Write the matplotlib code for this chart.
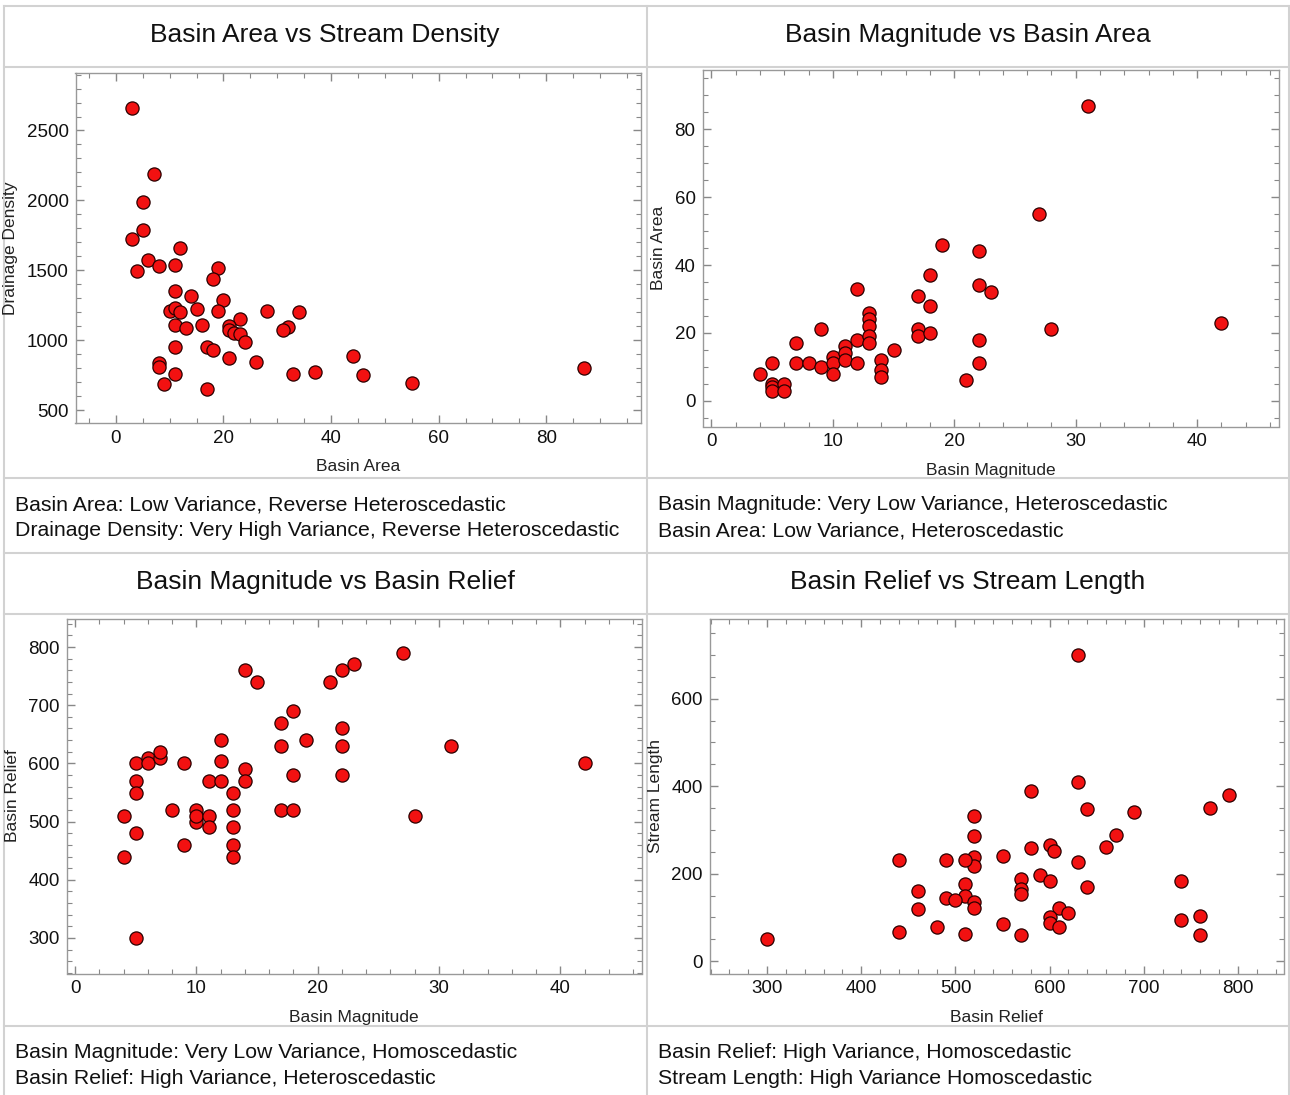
import matplotlib.pyplot as plt
from matplotlib.lines import Line2D
from matplotlib.ticker import MultipleLocator

plt.rcParams['font.family'] = ['Liberation Sans', 'DejaVu Sans']

# Basin Area vs Drainage Density
area_1 = [3, 7, 5, 5, 3, 12, 6, 4, 8, 11, 19, 18, 11, 14, 20, 10, 11, 12, 15, 19,
          28, 34, 23, 11, 13, 16, 21, 21, 22, 23, 24, 32, 31, 11, 17, 18, 21, 26,
          8, 8, 44, 11, 33, 37, 46, 9, 55, 17, 87]
density_1 = [2660, 2190, 1990, 1790, 1725, 1660, 1576, 1495, 1531, 1540, 1517, 1436,
             1350, 1314, 1290, 1206, 1232, 1200, 1222, 1210, 1210, 1200, 1150, 1105,
             1088, 1107, 1098, 1076, 1052, 1043, 986, 1093, 1076, 950, 950, 926, 873,
             843, 838, 809, 883, 761, 761, 773, 752, 687, 690, 647, 802]

# Basin Magnitude vs Basin Area
magnitude_2 = [4, 5, 5, 5, 5, 6, 6, 7, 7, 8, 9, 9, 10, 10, 10, 11, 11, 11, 12, 12,
               12, 13, 13, 13, 13, 13, 14, 14, 14, 15, 17, 17, 17, 18, 18, 18, 19,
               21, 22, 22, 22, 22, 23, 27, 28, 31, 42]
area_2 = [8, 11, 5, 4, 3, 5, 3, 17, 11, 11, 21, 10, 13, 11, 8, 16, 14, 12, 33, 18,
          11, 26, 24, 22, 19, 17, 12, 9, 7, 15, 31, 21, 19, 37, 28, 20, 46,
          6, 44, 34, 18, 11, 32, 55, 21, 87, 23]

# Basin Magnitude vs Basin Relief
magnitude_3 = [4, 4, 5, 5, 5, 5, 5, 6, 6, 7, 7, 8, 9, 9, 10, 10, 10, 11, 11, 11,
               12, 12, 12, 13, 13, 13, 13, 13, 14, 14, 14, 15, 17, 17, 17, 18, 18,
               18, 19, 21, 22, 22, 22, 22, 23, 27, 28, 31, 42]
relief_3 = [510, 440, 600, 570, 550, 480, 300, 610, 600, 610, 620, 520, 600, 460,
            520, 500, 510, 570, 510, 490, 640, 605, 570, 550, 520, 490, 460, 440,
            760, 590, 570, 740, 670, 630, 520, 690, 580, 520, 640, 740, 760, 660,
            630, 580, 770, 790, 510, 630, 600]

# Basin Relief vs Stream Length
relief_4 = [630, 630, 580, 640, 690, 770, 790, 520, 520, 670, 660, 580, 600, 605,
            550, 520, 520, 510, 490, 440, 630, 590, 600, 570, 570, 570, 740, 640,
            460, 510, 510, 490, 500, 520, 520, 460, 610, 620, 600, 600, 610, 550,
            480, 440, 510, 570, 740, 760, 760, 300]
length_4 = [700, 410, 390, 347, 340, 350, 380, 333, 287, 288, 260, 258, 266, 252,
            240, 238, 218, 231, 231, 231, 226, 198, 184, 187, 166, 153, 183, 169,
            160, 177, 149, 144, 140, 135, 122, 120, 122, 111, 101, 88, 79, 84,
            79, 66, 63, 60, 94, 104, 61, 50]

titles = ['Basin Area vs Stream Density', 'Basin Magnitude vs Basin Area',
          'Basin Magnitude vs Basin Relief', 'Basin Relief vs Stream Length']
captions = [
    ['Basin Area: Low Variance, Reverse Heteroscedastic',
     'Drainage Density: Very High Variance, Reverse Heteroscedastic'],
    ['Basin Magnitude: Very Low Variance, Heteroscedastic',
     'Basin Area: Low Variance, Heteroscedastic'],
    ['Basin Magnitude: Very Low Variance, Homoscedastic',
     'Basin Relief: High Variance, Heteroscedastic'],
    ['Basin Relief: High Variance, Homoscedastic',
     'Stream Length: High Variance Homoscedastic'],
]

W, H = 1290, 1095
fig = plt.figure(figsize=(W / 100, H / 100), dpi=100)
fig.patch.set_facecolor('white')

# background layer in pixel coordinates for the table grid and text
bg = fig.add_axes([0, 0, 1, 1])
bg.set_xlim(0, W)
bg.set_ylim(H, 0)
bg.axis('off')

grid_col = '#d2d2d2'
for y in [6, 67, 478, 553, 614, 1026]:
    bg.add_line(Line2D([4, 1289], [y, y], color=grid_col, lw=1.5))
for x in [4, 646.5, 1289]:
    bg.add_line(Line2D([x, x], [6, H], color=grid_col, lw=1.5))

title_pos = [(325, 35), (968, 35), (325, 582), (968, 582)]
for (tx, ty), t in zip(title_pos, titles):
    bg.text(tx, ty, t, ha='center', va='center', fontsize=19, color='#111111')

cap_pos = [(15, 505), (658, 505), (15, 1052), (658, 1052)]
for (cx, cy), lines in zip(cap_pos, captions):
    bg.text(cx, cy, lines[0], ha='left', va='center', fontsize=15.3, color='#111111')
    bg.text(cx, cy + 26, lines[1], ha='left', va='center', fontsize=15.3, color='#111111')


def px_axes(left, top, right, bottom):
    return fig.add_axes([left / W, 1 - bottom / H, (right - left) / W, (bottom - top) / H])


def style(ax, xmaj, xmin, ymaj, ymin, xlim, ylim, xlabel, ylabel):
    ax.set_xlim(*xlim)
    ax.set_ylim(*ylim)
    ax.xaxis.set_major_locator(MultipleLocator(xmaj))
    ax.xaxis.set_minor_locator(MultipleLocator(xmin))
    ax.yaxis.set_major_locator(MultipleLocator(ymaj))
    ax.yaxis.set_minor_locator(MultipleLocator(ymin))
    ax.tick_params(which='both', direction='in', top=True, right=True,
                   color='#888888', labelsize=13.5, labelcolor='#111111', pad=5)
    ax.tick_params(which='major', length=6, width=1)
    ax.tick_params(which='minor', length=3.5, width=0.8)
    for s in ax.spines.values():
        s.set_color('#999999')
        s.set_linewidth(1)
    ax.set_xlabel(xlabel, fontsize=12.5, color='#222222', labelpad=9)
    ax.set_ylabel(ylabel, fontsize=12.5, color='#222222', labelpad=6)


mk = dict(s=90, c='#f21111', edgecolors='#2a0000', linewidths=0.9, zorder=3, clip_on=False)

ax1 = px_axes(75.5, 72.5, 641, 423)
ax1.scatter(area_1, density_1, **mk)
style(ax1, 20, 5, 500, 100, (-7.5, 97.6), (407, 2915), 'Basin Area', 'Drainage Density')

ax2 = px_axes(702.5, 70, 1278.5, 426.5)
ax2.scatter(magnitude_2, area_2, **mk)
style(ax2, 10, 2, 20, 5, (-0.74, 46.7), (-7.6, 97.5), 'Basin Magnitude', 'Basin Area')

ax3 = px_axes(66.5, 618.5, 641.5, 973.5)
ax3.scatter(magnitude_3, relief_3, **mk)
style(ax3, 10, 2, 100, 20, (-0.72, 46.7), (239, 849), 'Basin Magnitude', 'Basin Relief')

ax4 = px_axes(709.5, 619, 1284, 973.5)
ax4.scatter(relief_4, length_4, **mk)
style(ax4, 100, 20, 200, 50, (238.8, 848.9), (-28, 782), 'Basin Relief', 'Stream Length')

fig.savefig('out.png', dpi=100)
